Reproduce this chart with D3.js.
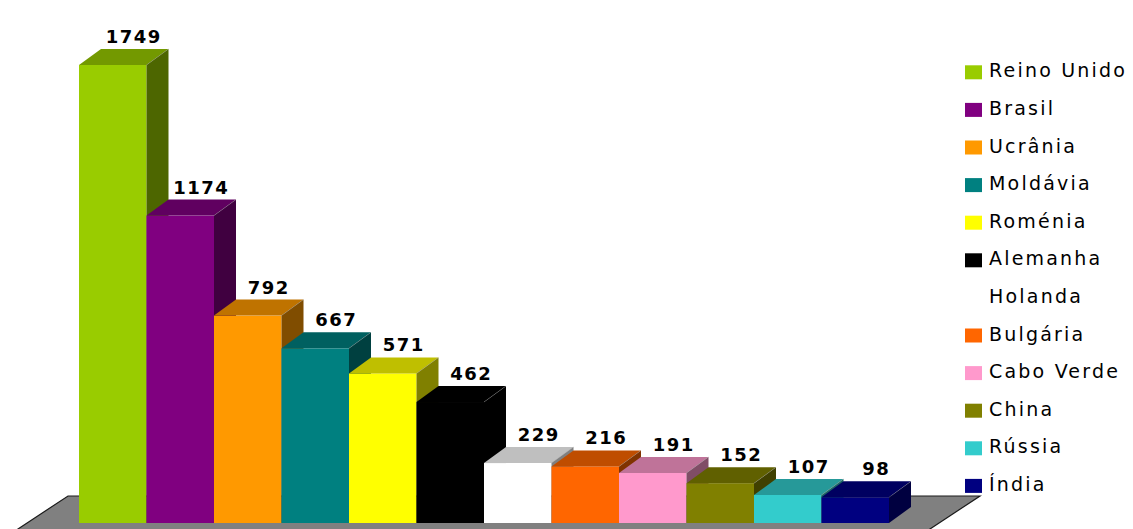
<!DOCTYPE html>
<html>
<head>
<meta charset="utf-8">
<script src="https://cdn.jsdelivr.net/npm/d3@7"></script>
<style>
  html, body { margin: 0; padding: 0; background: #fff; }
  svg { display: block; }
  text { font-family: "DejaVu Sans", Verdana, sans-serif; }
</style>
</head>
<body>
<div id="chart"></div>
<script>
// Country totals, largest first
const categories = ["Reino Unido", "Brasil", "Ucrânia", "Moldávia", "Roménia", "Alemanha",
                    "Holanda", "Bulgária", "Cabo Verde", "China", "Rússia", "Índia"];
const values = [1749, 1174, 792, 667, 571, 462, 229, 216, 191, 152, 107, 98];
const colors = ["#99CC00", "#800080", "#FF9900", "#008080", "#FFFF00", "#000000",
                "#FFFFFF", "#FF6600", "#FF99CC", "#808000", "#33CCCC", "#000080"];

const W = 1133, H = 529;
const depthX = 22, depthY = 16;   // oblique offset of the 3D depth

const svg = d3.select("#chart").append("svg")
  .attr("width", W).attr("height", H)
  .style("background", "#fff");

const x = d3.scaleBand().domain(categories).range([79, 889]).padding(0);
const y = d3.scaleLinear().domain([0, 1749]).range([523, 65]);
const color = d3.scaleOrdinal().domain(categories).range(colors);

const shade = (c, k) => {
  const r = d3.rgb(c);
  return d3.rgb(r.r * k, r.g * k, r.b * k).formatHex();
};

// Floor of the 3D plot area
const base = y(0);
const backY = base - 27, frontY = H + 12;
const slope = 50 / 33;
const backL = 68, backR = 980;
const floor = [
  [backL, backY], [backR, backY],
  [backR - slope * (frontY - backY), frontY],
  [backL - slope * (frontY - backY), frontY]
];
svg.append("polygon")
  .attr("points", floor.map(p => p.join(",")).join(" "))
  .attr("fill", "#808080");
svg.append("polyline")
  .attr("points", [floor[3], floor[0], floor[1], floor[2]].map(p => p.join(",")).join(" "))
  .attr("fill", "none").attr("stroke", "#1a1a1a").attr("stroke-width", 1.2);

// Bars, drawn left to right so each one covers its neighbour's side face
const bars = svg.append("g");
categories.forEach((cat, i) => {
  const x0 = x(cat), x1 = x0 + x.bandwidth();
  const yt = y(values[i]), yb = y(0);
  const c = color(cat);
  const g = bars.append("g");
  g.append("rect")
    .attr("x", x0).attr("y", yt)
    .attr("width", x.bandwidth()).attr("height", yb - yt)
    .attr("fill", c);
  g.append("polygon")
    .attr("points", [[x0, yt], [x0 + depthX, yt - depthY], [x1 + depthX, yt - depthY], [x1, yt]]
      .map(p => p.join(",")).join(" "))
    .attr("fill", shade(c, 0.75));
  g.append("polygon")
    .attr("points", [[x1, yt], [x1 + depthX, yt - depthY], [x1 + depthX, yb - depthY], [x1, yb]]
      .map(p => p.join(",")).join(" "))
    .attr("fill", shade(c, 0.5));
  g.append("line")
    .attr("x1", x1).attr("y1", yt).attr("x2", x1 + depthX).attr("y2", yt - depthY)
    .attr("stroke", "#9a9a9a").attr("stroke-opacity", 0.45).attr("stroke-width", 0.7);
});

// Value labels above each bar
svg.append("g").selectAll("text")
  .data(categories)
  .join("text")
  .attr("x", d => x(d) + x.bandwidth() / 2 + 21)
  .attr("y", (d, i) => y(values[i]) - depthY - 6)
  .attr("text-anchor", "middle")
  .attr("font-size", 18)
  .attr("font-weight", "bold")
  .attr("letter-spacing", "1.5px")
  .attr("fill", "#000")
  .text((d, i) => values[i]);

// Legend
const legend = svg.append("g").attr("transform", "translate(965,77.3)");
const rowH = 37.6;
const item = legend.selectAll("g")
  .data(categories)
  .join("g")
  .attr("transform", (d, i) => `translate(0,${i * rowH})`);
item.append("rect")
  .attr("x", 0).attr("y", -12)
  .attr("width", 17).attr("height", 14)
  .attr("fill", d => color(d));
item.append("text")
  .attr("x", 24).attr("y", 0)
  .attr("font-size", 19)
  .attr("letter-spacing", "2.2px")
  .attr("fill", "#000")
  .text(d => d);
</script>
</body>
</html>
